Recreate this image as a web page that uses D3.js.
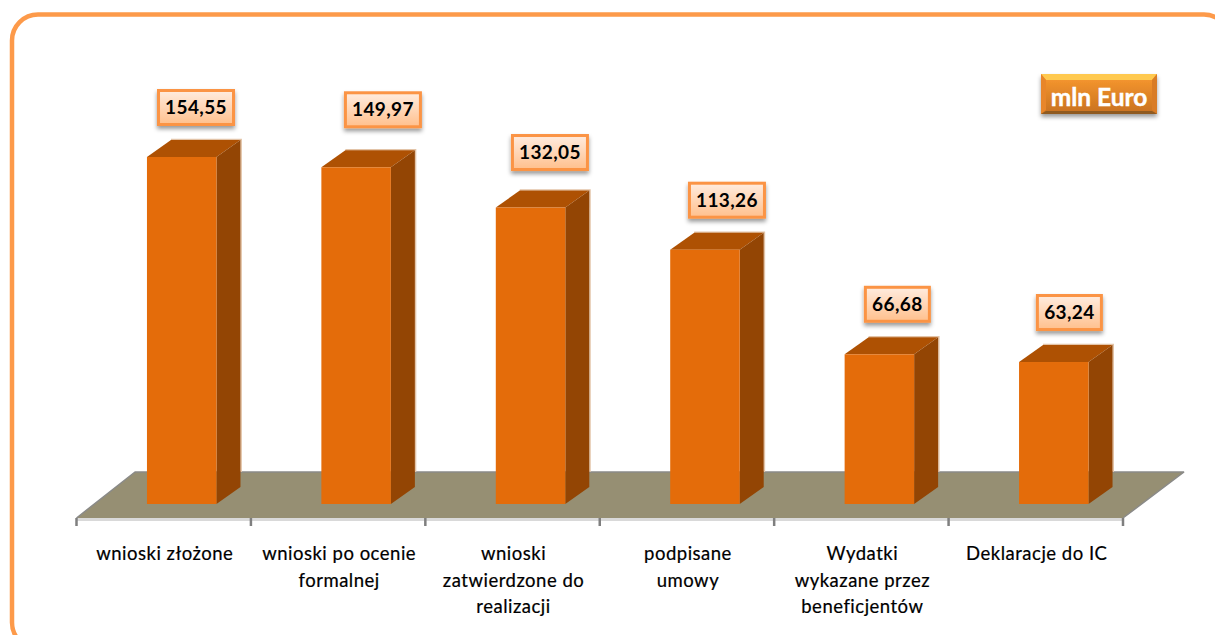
<!DOCTYPE html>
<html>
<head>
<meta charset="utf-8">
<script src="https://cdn.jsdelivr.net/npm/d3@7"></script>
<style>
  html, body { margin: 0; padding: 0; background: #fff; overflow: hidden; }
  text { font-family: Lato, "Open Sans", sans-serif; }
</style>
</head>
<body>
<div id="chart"></div>
<script>
var categories = [
  ["wnioski złożone"],
  ["wnioski po ocenie", "formalnej"],
  ["wnioski", "zatwierdzone do", "realizacji"],
  ["podpisane", "umowy"],
  ["Wydatki", "wykazane przez", "beneficjentów"],
  ["Deklaracje do IC"]
];
var values = [154.55, 149.97, 132.05, 113.26, 66.68, 63.24];
var valueLabels = ["154,55", "149,97", "132,05", "113,26", "66,68", "63,24"];
var unitLabel = "mln Euro";

// hand placed callouts in the original, offset from the top of each bar
var labelNudgeX = [14.3, 26.8, 19.4, 22, 18, 15.6];
var labelNudgeY = [-49.5, -57.5, -55, -49.5, -50, -49.5];

var width = 1215, height = 635;
var depthX = 24, depthY = 17;
var floorFront = 518, floorBack = 472, barBase = 504;

var svg = d3.select("#chart").append("svg")
  .attr("width", width)
  .attr("height", height);

var defs = svg.append("defs");

var boxGrad = defs.append("linearGradient")
  .attr("id", "boxGrad").attr("x1", 0).attr("y1", 0).attr("x2", 0).attr("y2", 1);
boxGrad.append("stop").attr("offset", "0%").attr("stop-color", "#ffecdf");
boxGrad.append("stop").attr("offset", "100%").attr("stop-color", "#ffc08d");

var unitGrad = defs.append("linearGradient")
  .attr("id", "unitGrad").attr("x1", 0).attr("y1", 0).attr("x2", 0).attr("y2", 1);
unitGrad.append("stop").attr("offset", "0%").attr("stop-color", "#fa9a30");
unitGrad.append("stop").attr("offset", "100%").attr("stop-color", "#c8711f");

var shadow = defs.append("filter")
  .attr("id", "shadow")
  .attr("x", "-20%").attr("y", "-30%").attr("width", "140%").attr("height", "170%");
shadow.append("feDropShadow")
  .attr("dx", 0).attr("dy", 3).attr("stdDeviation", 2)
  .attr("flood-color", "#000").attr("flood-opacity", 0.4);

// outer frame, it runs past the right and bottom of the picture
svg.append("rect")
  .attr("x", 12).attr("y", 14.5)
  .attr("width", 1218).attr("height", 634)
  .attr("rx", 26).attr("ry", 26)
  .attr("fill", "none")
  .attr("stroke", "#fd9a4a")
  .attr("stroke-width", 4.5);

var x = d3.scaleBand().domain(d3.range(categories.length)).range([76.5, 1123]);
var y = d3.scaleLinear().domain([0, 154.55]).range([barBase, 157]);
var barWidth = 69.5;
var barShift = 18; // front of the bars sits right of the band centre

// floor
svg.append("polygon")
  .attr("points", [[76.5, floorFront], [135, floorBack], [1184, floorBack], [1123, floorFront]].join(" "))
  .attr("fill", "#968f73");
svg.append("path")
  .attr("d", "M76.5," + floorFront + "L135," + floorBack + "H1184L1123," + floorFront)
  .attr("fill", "none")
  .attr("stroke", "#8a8a88")
  .attr("stroke-linejoin", "bevel")
  .attr("stroke-width", 1.5);

// axis line under the floor, with ticks
svg.append("rect")
  .attr("x", 76.5).attr("y", floorFront)
  .attr("width", 1046.5).attr("height", 3)
  .attr("fill", "#d9d9d9");
svg.selectAll(".tick-mark")
  .data(d3.range(categories.length + 1))
  .enter()
  .append("line")
  .attr("class", "tick-mark")
  .attr("x1", function(d) { return d == categories.length ? x.range()[1] : x(d); })
  .attr("x2", function(d) { return d == categories.length ? x.range()[1] : x(d); })
  .attr("y1", floorFront)
  .attr("y2", 526)
  .attr("stroke", "#7f7f7f")
  .attr("stroke-width", 2.5);

// bars
var bars = svg.selectAll(".bar")
  .data(values)
  .enter()
  .append("g")
  .attr("class", "bar")
  .attr("transform", function(d, i) {
    return "translate(" + (x(i) + x.bandwidth() / 2 + barShift - barWidth / 2) + ",0)";
  });

bars.append("path") // pale edge along the back of the bar, stops at the floor
  .attr("d", function(d) {
    var t = y(d) - depthY - 0.5;
    return "M" + depthX + "," + t + "H" + (barWidth + depthX + 0.7) + "V" + floorBack;
  })
  .attr("fill", "none")
  .attr("stroke", "#e3c4a8")
  .attr("stroke-width", 1.5);

bars.append("polygon") // top
  .attr("points", function(d) {
    var t = y(d);
    return [[0, t], [depthX, t - depthY], [barWidth + depthX, t - depthY], [barWidth, t]].join(" ");
  })
  .attr("fill", "#ae5103");

bars.append("polygon") // side
  .attr("points", function(d) {
    var t = y(d);
    return [[barWidth, t], [barWidth + depthX, t - depthY], [barWidth + depthX, barBase - depthY], [barWidth, barBase]].join(" ");
  })
  .attr("fill", "#934504");

bars.append("rect") // front
  .attr("x", 0)
  .attr("y", function(d) { return y(d); })
  .attr("width", barWidth)
  .attr("height", function(d) { return barBase - y(d); })
  .attr("fill", "#e46c0a");

// value callouts
var boxes = svg.selectAll(".value-box")
  .data(values)
  .enter()
  .append("g")
  .attr("class", "value-box")
  .attr("transform", function(d, i) {
    return "translate(" + (x(i) + x.bandwidth() / 2 + barShift + labelNudgeX[i]) + "," + (y(d) + labelNudgeY[i]) + ")";
  });

boxes.append("rect")
  .attr("x", function(d, i) { return valueLabels[i].length > 5 ? -37.5 : -32; })
  .attr("y", -17)
  .attr("width", function(d, i) { return valueLabels[i].length > 5 ? 75 : 64; })
  .attr("height", 34)
  .attr("fill", "url(#boxGrad)")
  .attr("stroke", "#fb9445")
  .attr("stroke-width", 3)
  .attr("filter", "url(#shadow)");

boxes.append("text")
  .attr("text-anchor", "middle")
  .attr("dy", "0.35em")
  .attr("font-size", 19)
  .attr("font-weight", 700)
  .attr("letter-spacing", 0.4)
  .attr("fill", "#000")
  .text(function(d, i) { return valueLabels[i]; });

// category labels
var catLabels = svg.selectAll(".cat-label")
  .data(categories)
  .enter()
  .append("text")
  .attr("class", "cat-label")
  .attr("text-anchor", "middle")
  .attr("font-size", 18.5)
  .attr("letter-spacing", 0.5)
  .attr("fill", "#000")
  .attr("stroke", "#000")
  .attr("stroke-width", 0.2)
  .attr("transform", function(d, i) {
    return "translate(" + (x(i) + x.bandwidth() / 2 + 1) + ",560)";
  });

catLabels.selectAll("tspan")
  .data(function(d) { return d; })
  .enter()
  .append("tspan")
  .attr("x", 0)
  .attr("y", function(d, i) { return i * 26.5; })
  .text(function(d) { return d; });

// unit box
var unitW = 116, unitH = 40;
var unit = svg.append("g").attr("transform", "translate(1041,74)");
unit.append("rect")
  .attr("width", unitW).attr("height", unitH)
  .attr("fill", "url(#unitGrad)")
  .attr("filter", "url(#shadow)");
unit.append("polygon") // bevel, top
  .attr("points", [[0, 0], [unitW, 0], [unitW - 5, 6], [5, 6]].join(" "))
  .attr("fill", "#ffc94f");
unit.append("polygon") // bevel, left
  .attr("points", [[0, 0], [5, 6], [5, unitH - 4], [0, unitH]].join(" "))
  .attr("fill", "#e8862a");
unit.append("polygon") // bevel, right
  .attr("points", [[unitW, 0], [unitW - 5, 6], [unitW - 5, unitH - 4], [unitW, unitH]].join(" "))
  .attr("fill", "#d97c26");
unit.append("polygon") // bevel, bottom
  .attr("points", [[0, unitH], [5, unitH - 3], [unitW - 5, unitH - 3], [unitW, unitH]].join(" "))
  .attr("fill", "#8f5a20");
unit.append("text")
  .attr("x", unitW / 2).attr("y", 23)
  .attr("dy", "0.36em")
  .attr("text-anchor", "middle")
  .attr("font-size", 24.5)
  .attr("font-weight", 700)
  .attr("fill", "#fff")
  .attr("stroke", "#fff")
  .attr("stroke-width", 0.4)
  .text(unitLabel);
</script>
</body>
</html>
